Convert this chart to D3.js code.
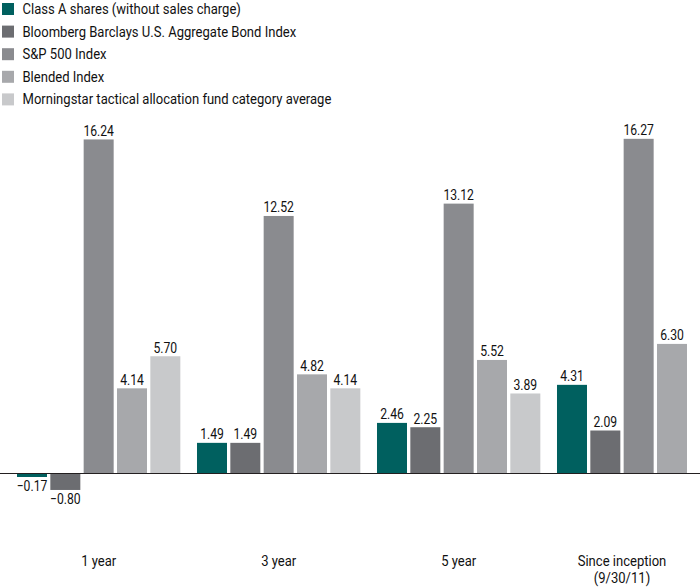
<!DOCTYPE html>
<html>
<head>
<meta charset="utf-8">
<script src="https://cdn.jsdelivr.net/npm/d3@7"></script>
<style>
  html, body { margin: 0; padding: 0; background: #fff; }
  svg { display: block; }
</style>
</head>
<body>
<svg id="chart" width="700" height="588"></svg>
<script>
// ---- data ----
const categories = ["1 year", "3 year", "5 year", "Since inception|(9/30/11)"];
const seriesNames = [
  "Class A shares (without sales charge)",
  "Bloomberg Barclays U.S. Aggregate Bond Index",
  "S&P 500 Index",
  "Blended Index",
  "Morningstar tactical allocation fund category average"
];
const classA      = [-0.17, 1.49, 2.46, 4.31];
const bloomberg   = [-0.80, 1.49, 2.25, 2.09];
const sp500       = [16.24, 12.52, 13.12, 16.27];
const blended     = [4.14, 4.82, 5.52, 6.30];
const morningstar = [5.70, 4.14, 3.89, null];
const seriesColors = ["#00605f", "#6c6d71", "#8a8b8f", "#a7a8ab", "#c8c9cb"];

const seriesValues = [classA, bloomberg, sp500, blended, morningstar];

// ---- layout ----
const svg = d3.select("#chart");
const W = 700, H = 588;

const x0 = d3.scaleBand()
  .domain(categories)
  .range([10.33, 730.33])
  .paddingInner(13.33 / 180)
  .paddingOuter(6.67 / 180);

const x1 = d3.scaleBand()
  .domain(seriesNames)
  .range([0, 163.33])
  .paddingInner(0.1)
  .paddingOuter(0);

const y = d3.scaleLinear().domain([0, 17]).range([473.5, 473.5 - 17 * 20.57]);

const fmt = d3.format(".2f");
const textFont = "Roboto, 'Open Sans', 'Noto Sans', sans-serif";

// flatten
const rows = [];
categories.forEach((c, ci) => {
  seriesNames.forEach((s, si) => {
    const v = seriesValues[si][ci];
    if (v !== null && v !== undefined) rows.push({ c, s, si, v });
  });
});

// bars
svg.append("g").selectAll("rect")
  .data(rows)
  .join("rect")
  .attr("x", d => x0(d.c) + x1(d.s))
  .attr("width", x1.bandwidth())
  .attr("y", d => y(Math.max(0, d.v)))
  .attr("height", d => Math.abs(y(d.v) - y(0)))
  .attr("fill", d => seriesColors[d.si]);

// value labels (condensed look via horizontal scaling)
svg.append("g").selectAll("text")
  .data(rows)
  .join("text")
  .attr("transform", d => {
    const tx = x0(d.c) + x1(d.s) + x1.bandwidth() / 2;
    const ty = d.v >= 0 ? y(d.v) - 3.5 : y(d.v) + 14.5;
    return `translate(${tx},${ty}) scale(0.84,1)`;
  })
  .attr("text-anchor", "middle")
  .attr("font-family", textFont)
  .attr("font-size", 14.5)
  .attr("fill", "#111")
  .text(d => fmt(d.v));

// baseline
svg.append("line")
  .attr("x1", 0).attr("x2", W)
  .attr("y1", y(0)).attr("y2", y(0))
  .attr("stroke", "#231f20")
  .attr("stroke-width", 1.2);

// category labels
const catG = svg.append("g");
categories.forEach((c, ci) => {
  const n = seriesValues.filter(sv => sv[ci] !== null && sv[ci] !== undefined).length;
  const cx = x0(c) + (x1.step() * (n - 1) + x1.bandwidth()) / 2;
  const lines = c.split("|");
  const t = catG.append("text")
    .attr("transform", `translate(${cx},0) scale(0.9,1)`)
    .attr("text-anchor", "middle")
    .attr("font-family", textFont)
    .attr("font-size", 14.5)
    .attr("fill", "#111");
  lines.forEach((ln, li) => {
    t.append("tspan").attr("x", 0).attr("y", 566 + li * 17).text(ln);
  });
});

// legend
const leg = svg.append("g");
seriesNames.forEach((s, i) => {
  const cy = 9 + i * 22.6;
  leg.append("rect")
    .attr("x", 2).attr("y", cy - 6)
    .attr("width", 12).attr("height", 12)
    .attr("fill", seriesColors[i]);
  leg.append("text")
    .attr("transform", `translate(22.5,${cy + 5}) scale(0.9,1)`)
    .attr("font-family", textFont)
    .attr("font-size", 14.5)
    .attr("fill", "#111")
    .text(s);
});
</script>
</body>
</html>
